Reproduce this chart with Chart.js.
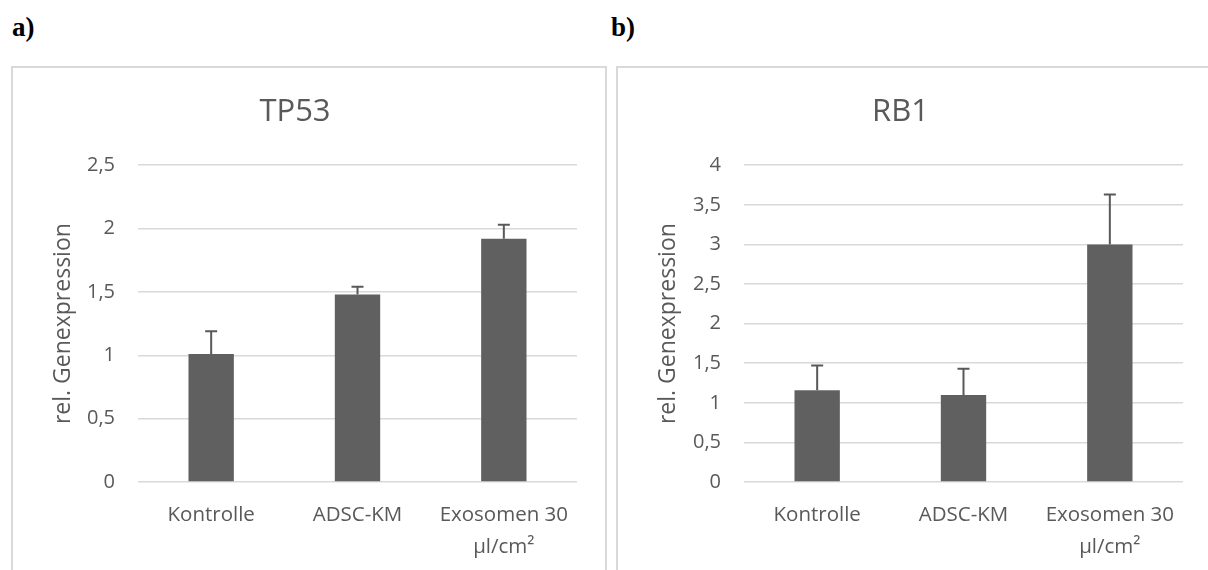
<!DOCTYPE html>
<html>
<head>
<meta charset="utf-8">
<script src="https://cdn.jsdelivr.net/npm/chart.js@4.4.1/dist/chart.umd.min.js"></script>
<style>
  html, body { margin: 0; padding: 0; background: #fff; width: 1208px; height: 570px; overflow: hidden; }
  .tag { position: absolute; font-family: "Liberation Serif", "DejaVu Serif", serif; font-weight: bold; font-size: 27px; color: #000; line-height: 1; }
  .panel { position: absolute; top: 66px; border: 2px solid #d9d9d9; background: #fff; width: 592px; height: 510px; }
  .panel canvas { display: block; }
</style>
</head>
<body>
<div class="tag" style="left:12px; top:14px;">a)</div>
<div class="tag" style="left:611px; top:14px;">b)</div>
<div class="panel" style="left:11px;"><canvas id="chartTP53"></canvas></div>
<div class="panel" style="left:616px;"><canvas id="chartRB1"></canvas></div>

<script>
// Treatment groups (x axis)
const categories = ['Kontrolle', 'ADSC-KM', ['Exosomen 30', 'µl/cm²']];

// TP53: mean relative expression and upper error (SD)
const tp53Means = [1.01, 1.48, 1.92];
const tp53Errors = [0.18, 0.06, 0.11];
const tp53TickLabels = ['0', '0,5', '1', '1,5', '2', '2,5'];

// RB1: mean relative expression and upper error (SD)
const rb1Means = [1.16, 1.10, 3.00];
const rb1Errors = [0.31, 0.33, 0.63];
const rb1TickLabels = ['0', '0,5', '1', '1,5', '2', '2,5', '3', '3,5', '4'];

const TEXT = '#595959';
const BAR = '#606060';
const GRID = '#d9d9d9';
const FONT = '"Open Sans", "Liberation Sans", sans-serif';

// Draws one-sided (upper) error bars on top of each bar
const errorBars = {
  id: 'errorBars',
  afterDatasetsDraw(chart, args, opts) {
    const ctx = chart.ctx;
    const y = chart.scales.y;
    const meta = chart.getDatasetMeta(0);
    const values = chart.data.datasets[0].data;
    ctx.save();
    ctx.strokeStyle = opts.color;
    ctx.lineWidth = opts.width;
    meta.data.forEach((bar, i) => {
      const top = y.getPixelForValue(values[i] + opts.errors[i]);
      ctx.beginPath();
      ctx.moveTo(bar.x, bar.y);
      ctx.lineTo(bar.x, top);
      ctx.moveTo(bar.x - opts.cap, top);
      ctx.lineTo(bar.x + opts.cap, top);
      ctx.stroke();
    });
    ctx.restore();
  }
};

function makeChart(id, title, means, errors, tickLabels, yMax, areaLeft) {
  return new Chart(document.getElementById(id), {
    type: 'bar',
    data: {
      labels: categories,
      datasets: [{
        data: means,
        backgroundColor: BAR,
        borderWidth: 0,
        barPercentage: 0.31,
        categoryPercentage: 1
      }]
    },
    options: {
      responsive: true,
      maintainAspectRatio: false,
      animation: false,
      layout: { padding: { left: 0, right: 592 - (areaLeft + 439), top: 0, bottom: 0 } },
      plugins: {
        legend: { display: false },
        tooltip: { enabled: false },
        title: {
          display: true,
          text: title,
          color: TEXT,
          font: { family: FONT, size: 31, weight: 'normal', lineHeight: 1.2 },
          padding: { top: 26, bottom: 34 }
        },
        errorBars: { errors: errors, color: TEXT, width: 2, cap: 6 }
      },
      scales: {
        x: {
          grid: { display: false },
          border: { display: false },
          ticks: {
            color: TEXT,
            font: { family: FONT, size: 20.5, lineHeight: 1.56 },
            padding: 9,
            maxRotation: 0,
            autoSkip: false
          },
          afterFit(s) { s.height = 510 - 414; }
        },
        y: {
          min: 0,
          max: yMax,
          grid: { color: GRID, lineWidth: 1.5, drawTicks: false },
          border: { display: false },
          ticks: {
            stepSize: 0.5,
            color: TEXT,
            padding: 23,
            font: { family: FONT, size: 20 },
            callback: (v) => tickLabels[Math.round(v / 0.5)]
          },
          title: {
            display: true,
            text: 'rel. Genexpression',
            color: TEXT,
            font: { family: FONT, size: 23, lineHeight: 1.2 },
            padding: { top: 37, bottom: 0 }
          },
          afterFit(s) { s.width = areaLeft; }
        }
      }
    },
    plugins: [errorBars]
  });
}

makeChart('chartTP53', 'TP53', tp53Means, tp53Errors, tp53TickLabels, 2.5, 125);
makeChart('chartRB1', 'RB1', rb1Means, rb1Errors, rb1TickLabels, 4, 126);
</script>
</body>
</html>
